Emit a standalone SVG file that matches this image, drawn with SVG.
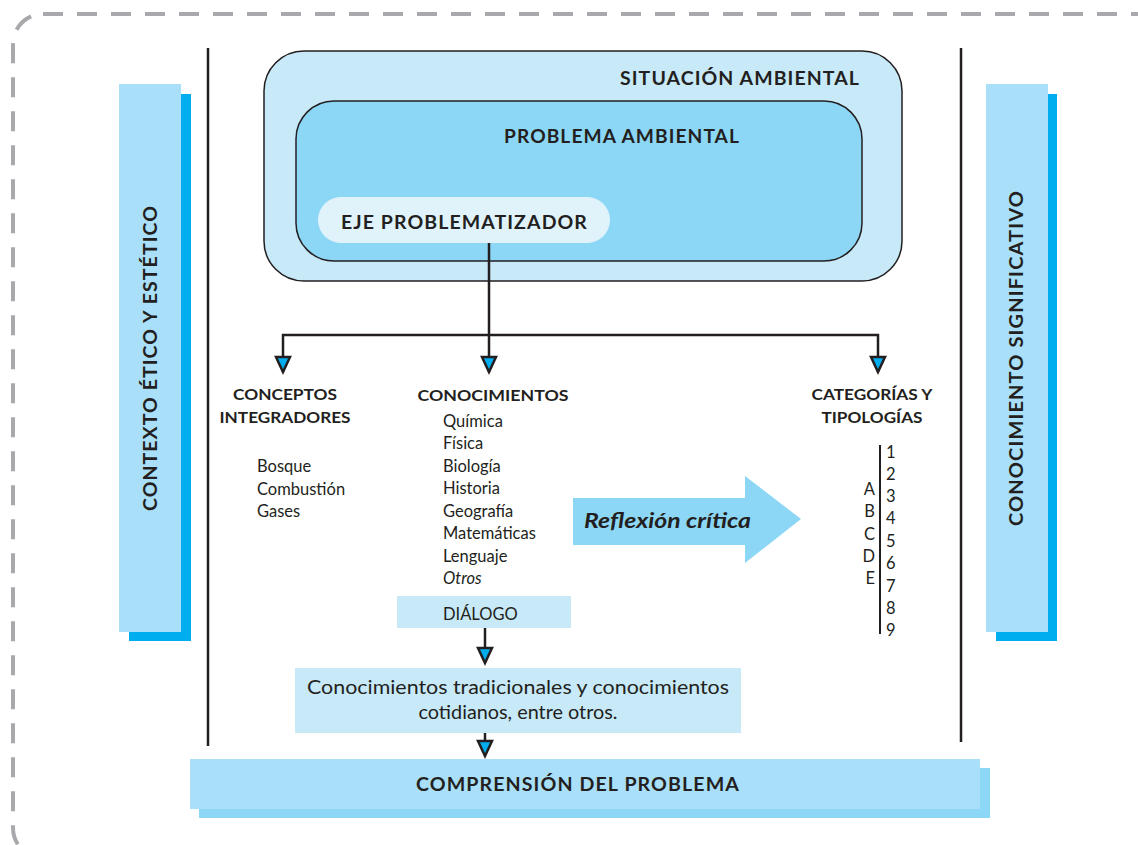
<svg xmlns="http://www.w3.org/2000/svg" width="1138" height="845" viewBox="0 0 1138 845">
<defs>
<style>
text{font-family:Lato,"Open Sans","Liberation Sans",sans-serif;fill:#231f20}
.h{font-size:18px;font-weight:bold;letter-spacing:1px}
.s{font-size:15px;font-weight:bold}
.r{font-size:16.5px}
.ln{stroke:#231f20;stroke-width:2.5;fill:none}
.ah{fill:#00aeef;stroke:#231f20;stroke-width:2.5;stroke-linejoin:miter}
</style>
</defs>
<rect x="13" y="14" width="1170" height="844" rx="30" fill="none" stroke="#a7a9ac" stroke-width="4" stroke-dasharray="20 14"/>
<line x1="208" y1="48" x2="208" y2="746" class="ln"/>
<line x1="961" y1="48" x2="961" y2="742" class="ln"/>

<g id="contexto">
<rect x="129" y="94" width="62" height="547" fill="#00aeef"/>
<rect x="119" y="84" width="62" height="548" fill="#a9dff8"/>
<text class="h" transform="translate(157,358) rotate(-90)" text-anchor="middle" font-size="17" textLength="306" lengthAdjust="spacingAndGlyphs">CONTEXTO ÉTICO Y ESTÉTICO</text>
</g>
<g id="significativo">
<rect x="996" y="94" width="61" height="547" fill="#00aeef"/>
<rect x="986" y="84" width="62" height="548" fill="#a9dff8"/>
<text class="h" transform="translate(1023,358) rotate(-90)" text-anchor="middle" textLength="336" lengthAdjust="spacingAndGlyphs">CONOCIMIENTO SIGNIFICATIVO</text>
</g>

<g id="situacion">
<rect x="264" y="51" width="638" height="230" rx="40" fill="#c7e9f8" stroke="#231f20" stroke-width="1.5"/>
<text class="h" x="860" y="85" text-anchor="end" textLength="240" lengthAdjust="spacingAndGlyphs">SITUACIÓN AMBIENTAL</text>
</g>
<g id="problema">
<rect x="296" y="101" width="566" height="160" rx="38" fill="#8dd7f6" stroke="#231f20" stroke-width="1.5"/>
<text class="h" x="504" y="143" textLength="236" lengthAdjust="spacingAndGlyphs">PROBLEMA AMBIENTAL</text>
</g>
<g id="eje">
<rect x="318" y="197" width="292" height="46" rx="23" fill="#e0f3fb"/>
<text class="h" x="341" y="229" textLength="247" lengthAdjust="spacingAndGlyphs">EJE PROBLEMATIZADOR</text>
</g>

<g id="connectors">
<path class="ln" d="M489 243V335M283 372V335H878V372M489 335V372"/>
<path class="ah" d="M276 357H290L283 372Z"/>
<path class="ah" d="M482 357H496L489 372Z"/>
<path class="ah" d="M871 357H885L878 372Z"/>
<path class="ln" d="M485 628V662"/>
<path class="ah" d="M478 648H492L485 663Z"/>
<path class="ln" d="M485 733V754"/>
<path class="ah" d="M478 741H492L485 756Z"/>
</g>

<g id="conceptos">
<text class="s" x="285" y="400" text-anchor="middle" textLength="104" lengthAdjust="spacingAndGlyphs">CONCEPTOS</text>
<text class="s" x="285" y="423" text-anchor="middle" textLength="131" lengthAdjust="spacingAndGlyphs">INTEGRADORES</text>
<text class="r" x="257" y="472">Bosque</text>
<text class="r" x="257" y="495">Combustión</text>
<text class="r" x="257" y="517">Gases</text>
</g>

<g id="conocimientos">
<text class="s" x="493" y="401" text-anchor="middle" textLength="151" lengthAdjust="spacingAndGlyphs">CONOCIMIENTOS</text>
<text class="r" x="443" y="427">Química</text>
<text class="r" x="443" y="449">Física</text>
<text class="r" x="443" y="472">Biología</text>
<text class="r" x="443" y="494">Historia</text>
<text class="r" x="443" y="517">Geografía</text>
<text class="r" x="443" y="539">Matemáticas</text>
<text class="r" x="443" y="562">Lenguaje</text>
<text class="r" x="443" y="584" font-style="italic">Otros</text>
</g>

<g id="dialogo">
<rect x="397" y="596" width="174" height="32" fill="#c7e9f8"/>
<text class="r" x="443" y="620">DIÁLOGO</text>
</g>

<g id="tradicionales">
<rect x="295" y="668" width="446" height="65" fill="#c7e9f8"/>
<text x="518" y="694" text-anchor="middle" font-size="18.5" textLength="422" lengthAdjust="spacingAndGlyphs">Conocimientos tradicionales y conocimientos</text>
<text x="518" y="719" text-anchor="middle" font-size="18.5" textLength="199" lengthAdjust="spacingAndGlyphs">cotidianos, entre otros.</text>
</g>

<g id="comprension">
<rect x="199" y="768" width="791" height="50" fill="#8dd7f6"/>
<rect x="190" y="759" width="790" height="50" fill="#a9dff8"/>
<text class="h" x="578" y="791" text-anchor="middle" textLength="324" lengthAdjust="spacingAndGlyphs">COMPRENSIÓN DEL PROBLEMA</text>
</g>

<g id="reflexion">
<path d="M573 498H745V476L801 519L745 563V545H573Z" fill="#8dd7f6"/>
<text x="584" y="528" font-size="21" font-weight="bold" font-style="italic" textLength="167" lengthAdjust="spacingAndGlyphs">Reflexión crítica</text>
</g>

<g id="categorias">
<text class="s" x="872" y="400" text-anchor="middle" textLength="121" lengthAdjust="spacingAndGlyphs">CATEGORÍAS Y</text>
<text class="s" x="872" y="423" text-anchor="middle" textLength="101" lengthAdjust="spacingAndGlyphs">TIPOLOGÍAS</text>
<line x1="880" y1="445" x2="880" y2="634" stroke="#231f20" stroke-width="2"/>
<text class="r" x="886" y="458">1</text>
<text class="r" x="886" y="480">2</text>
<text class="r" x="886" y="502">3</text>
<text class="r" x="886" y="524">4</text>
<text class="r" x="886" y="547">5</text>
<text class="r" x="886" y="569">6</text>
<text class="r" x="886" y="592">7</text>
<text class="r" x="886" y="614">8</text>
<text class="r" x="886" y="636">9</text>
<text class="r" x="875" y="495" text-anchor="end">A</text>
<text class="r" x="875" y="517" text-anchor="end">B</text>
<text class="r" x="875" y="540" text-anchor="end">C</text>
<text class="r" x="875" y="562" text-anchor="end">D</text>
<text class="r" x="875" y="584" text-anchor="end">E</text>
</g>
</svg>
